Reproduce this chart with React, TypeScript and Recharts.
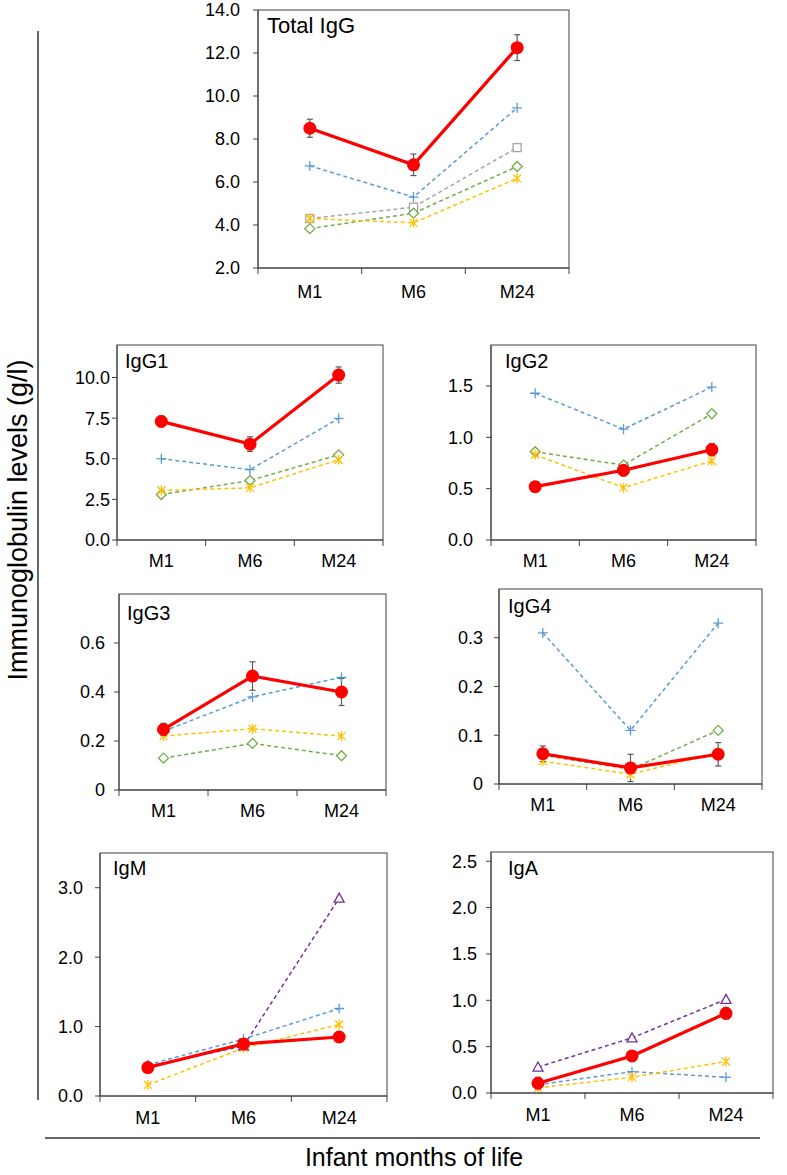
import React from "react";
import { LineChart, Line, XAxis, YAxis, ErrorBar } from "recharts";

const months = ["M1", "M6", "M24"];

// Total IgG (g/l)
const totalIgG = [8.5, 6.8, 12.25];
const totalIgGErr = [0.42, 0.5, 0.6];
const totalIgGPlus = [6.75, 5.3, 9.45];
const totalIgGSquare = [4.3, 4.83, 7.6];
const totalIgGDiamond = [3.83, 4.55, 6.72];
const totalIgGStar = [4.3, 4.1, 6.17];
const totalIgGTicks = [2, 4, 6, 8, 10, 12, 14];

// IgG1
const igg1 = [7.3, 5.9, 10.15];
const igg1Err = [0.33, 0.45, 0.5];
const igg1Plus = [5.0, 4.33, 7.48];
const igg1Diamond = [2.8, 3.66, 5.24];
const igg1Star = [3.05, 3.21, 4.94];
const igg1Ticks = [0, 2.5, 5, 7.5, 10];

// IgG2
const igg2 = [0.52, 0.68, 0.88];
const igg2Err = [0.05, 0.055, 0.06];
const igg2Plus = [1.43, 1.08, 1.49];
const igg2Diamond = [0.86, 0.73, 1.23];
const igg2Star = [0.83, 0.51, 0.77];
const igg2Ticks = [0, 0.5, 1, 1.5];

// IgG3
const igg3 = [0.247, 0.465, 0.4];
const igg3Err = [0.025, 0.058, 0.055];
const igg3Plus = [0.24, 0.38, 0.46];
const igg3Diamond = [0.13, 0.19, 0.14];
const igg3Star = [0.22, 0.25, 0.22];
const igg3Ticks = [0, 0.2, 0.4, 0.6];

// IgG4
const igg4 = [0.062, 0.033, 0.061];
const igg4Err = [0.016, 0.028, 0.024];
const igg4Plus = [0.31, 0.11, 0.33];
const igg4Diamond = [0.059, 0.03, 0.11];
const igg4Star = [0.047, 0.02, 0.064];
const igg4Ticks = [0, 0.1, 0.2, 0.3];

// IgM
const igm = [0.41, 0.75, 0.85];
const igmErr = [0.04, 0.04, 0.03];
const igmPlus = [0.45, 0.82, 1.26];
const igmStar = [0.16, 0.69, 1.03];
const igmTriangle = [0.43, 0.72, 2.85];
const igmTicks = [0, 1, 2, 3];

// IgA
const iga = [0.105, 0.4, 0.86];
const igaErr = [0.065, 0.03, 0.06];
const igaPlus = [0.09, 0.23, 0.17];
const igaStar = [0.055, 0.17, 0.34];
const igaTriangle = [0.28, 0.595, 1.01];
const igaTicks = [0, 0.5, 1, 1.5, 2, 2.5];

const AXIS = "#404040";
const RED = "#ff0000";
const FONT = "'Liberation Sans', Arial, sans-serif";

type RefKey = "plus" | "square" | "diamond" | "star" | "triangle";

const refColors: Record<RefKey, string> = {
  plus: "#5b9bd5",
  square: "#a5a5a5",
  diamond: "#70ad47",
  star: "#ffc000",
  triangle: "#7030a0",
};

function Marker({ kind, cx, cy }: { kind: RefKey; cx?: number; cy?: number }) {
  if (cx == null || cy == null) return null;
  const c = refColors[kind];
  if (kind === "plus") {
    return (
      <g stroke={c} strokeWidth={1.3}>
        <line x1={cx - 5} y1={cy} x2={cx + 5} y2={cy} />
        <line x1={cx} y1={cy - 5} x2={cx} y2={cy + 5} />
      </g>
    );
  }
  if (kind === "square") {
    return <rect x={cx - 4} y={cy - 4} width={8} height={8} fill="#fff" stroke={c} strokeWidth={1.3} />;
  }
  if (kind === "diamond") {
    return (
      <polygon
        points={`${cx},${cy - 5} ${cx + 5},${cy} ${cx},${cy + 5} ${cx - 5},${cy}`}
        fill="#fff"
        stroke={c}
        strokeWidth={1.3}
      />
    );
  }
  if (kind === "triangle") {
    return (
      <polygon
        points={`${cx},${cy - 5} ${cx + 5},${cy + 4} ${cx - 5},${cy + 4}`}
        fill="#fff"
        stroke={c}
        strokeWidth={1.3}
      />
    );
  }
  return (
    <g stroke={c} strokeWidth={1.3}>
      <line x1={cx} y1={cy - 5} x2={cx} y2={cy + 5} />
      <line x1={cx - 4} y1={cy - 4} x2={cx + 4} y2={cy + 4} />
      <line x1={cx - 4} y1={cy + 4} x2={cx + 4} y2={cy - 4} />
    </g>
  );
}

interface Panel {
  title: string;
  titleSize: number;
  titleDx: number;
  titleDy: number;
  box: { x: number; y: number; w: number; h: number };
  domain: [number, number];
  ticks: number[];
  fmt: (v: number) => string;
  labelGap: number;
  labelDy: number;
  main: number[];
  err: number[];
  refs: Partial<Record<RefKey, number[]>>;
}

const oneDecimal = (v: number) => v.toFixed(1);
const plain = (v: number) => String(v);

const panels: Panel[] = [
  {
    title: "Total IgG", titleSize: 22, titleDx: 9, titleDy: 23,
    box: { x: 258, y: 10, w: 311, h: 258 },
    domain: [2, 14], ticks: totalIgGTicks, fmt: oneDecimal, labelGap: 13, labelDy: 30,
    main: totalIgG, err: totalIgGErr,
    refs: { plus: totalIgGPlus, square: totalIgGSquare, diamond: totalIgGDiamond, star: totalIgGStar },
  },
  {
    title: "IgG1", titleSize: 20, titleDx: 8, titleDy: 23,
    box: { x: 117, y: 345, w: 266, h: 195 },
    domain: [0, 12], ticks: igg1Ticks, fmt: oneDecimal, labelGap: 2, labelDy: 27,
    main: igg1, err: igg1Err,
    refs: { plus: igg1Plus, diamond: igg1Diamond, star: igg1Star },
  },
  {
    title: "IgG2", titleSize: 20, titleDx: 14, titleDy: 23,
    box: { x: 491, y: 345, w: 265, h: 195 },
    domain: [0, 1.9], ticks: igg2Ticks, fmt: oneDecimal, labelGap: 13, labelDy: 27,
    main: igg2, err: igg2Err,
    refs: { plus: igg2Plus, diamond: igg2Diamond, star: igg2Star },
  },
  {
    title: "IgG3", titleSize: 20, titleDx: 8, titleDy: 26,
    box: { x: 119, y: 594, w: 267, h: 196 },
    domain: [0, 0.8], ticks: igg3Ticks, fmt: plain, labelGap: 9, labelDy: 27,
    main: igg3, err: igg3Err,
    refs: { plus: igg3Plus, diamond: igg3Diamond, star: igg3Star },
  },
  {
    title: "IgG4", titleSize: 20, titleDx: 9, titleDy: 24,
    box: { x: 499, y: 589, w: 263, h: 195 },
    domain: [0, 0.4], ticks: igg4Ticks, fmt: plain, labelGap: 11, labelDy: 27,
    main: igg4, err: igg4Err,
    refs: { plus: igg4Plus, diamond: igg4Diamond, star: igg4Star },
  },
  {
    title: "IgM", titleSize: 20, titleDx: 13, titleDy: 22,
    box: { x: 100, y: 853, w: 287, h: 243 },
    domain: [0, 3.5], ticks: igmTicks, fmt: oneDecimal, labelGap: 12, labelDy: 28,
    main: igm, err: igmErr,
    refs: { triangle: igmTriangle, plus: igmPlus, star: igmStar },
  },
  {
    title: "IgA", titleSize: 20, titleDx: 17, titleDy: 23,
    box: { x: 491, y: 852, w: 282, h: 241 },
    domain: [0, 2.6], ticks: igaTicks, fmt: oneDecimal, labelGap: 9, labelDy: 28,
    main: iga, err: igaErr,
    refs: { triangle: igaTriangle, plus: igaPlus, star: igaStar },
  },
];

// category boundaries at integers, labels at band centres
const xTicks = [0, 0.5, 1, 1.5, 2, 2.5, 3];

function MonthTick(props: any) {
  const { x, y, payload, labelDy } = props;
  const v = payload.value as number;
  if (Number.isInteger(v)) {
    return <line x1={x} y1={y} x2={x} y2={y + 6} stroke={AXIS} strokeWidth={1} />;
  }
  return (
    <text x={x} y={y + labelDy} textAnchor="middle" fontSize={18} fill="#000">
      {months[Math.floor(v)]}
    </text>
  );
}

const Y_W = 70;
const PAD = 12;
const X_H = 40;

function PanelChart({ p }: { p: Panel }) {
  const data = months.map((m, i) => {
    const row: Record<string, number | string> = { x: i + 0.5, month: m, main: p.main[i], err: p.err[i] };
    (Object.keys(p.refs) as RefKey[]).forEach((k) => {
      row[k] = (p.refs[k] as number[])[i];
    });
    return row;
  });
  return (
    <div style={{ position: "absolute", left: p.box.x - Y_W, top: p.box.y - PAD }}>
      <LineChart
        width={p.box.w + Y_W + PAD}
        height={p.box.h + PAD + X_H}
        data={data}
        margin={{ top: PAD, right: PAD, bottom: 0, left: 0 }}
      >
        <XAxis
          dataKey="x"
          type="number"
          domain={[0, 3]}
          ticks={xTicks}
          interval={0}
          height={X_H}
          tickSize={0}
          tickMargin={0}
          tickLine={false}
          axisLine={{ stroke: AXIS, strokeWidth: 1 }}
          tick={(t: any) => <MonthTick {...t} labelDy={p.labelDy} />}
        />
        <YAxis
          type="number"
          domain={p.domain}
          ticks={p.ticks}
          interval={0}
          width={Y_W}
          tickSize={5}
          tickMargin={p.labelGap}
          tickFormatter={p.fmt}
          tick={{ fontSize: 18, fill: "#000" }}
          tickLine={{ stroke: AXIS }}
          axisLine={{ stroke: AXIS, strokeWidth: 1 }}
          allowDataOverflow
        />
        {(Object.keys(p.refs) as RefKey[]).map((k) => (
          <Line
            key={k}
            dataKey={k}
            type="linear"
            stroke={refColors[k]}
            strokeWidth={1.5}
            strokeDasharray="4 3"
            dot={(d: any) => <Marker key={`${k}-${d.index}`} kind={k} cx={d.cx} cy={d.cy} />}
            activeDot={false}
            isAnimationActive={false}
          />
        ))}
        <Line
          dataKey="main"
          type="linear"
          stroke={RED}
          strokeWidth={3.2}
          dot={{ r: 6.5, fill: RED, stroke: RED, strokeWidth: 0 }}
          activeDot={false}
          isAnimationActive={false}
        >
          <ErrorBar dataKey="err" direction="y" width={3} stroke="#595959" strokeWidth={1.2} />
        </Line>
      </LineChart>
    </div>
  );
}

export default function App() {
  return (
    <div style={{ position: "relative", width: 787, height: 1175, background: "#fff", fontFamily: FONT, overflow: "hidden" }}>
      <style>{"body{margin:0}"}</style>
      {panels.map((p) => (
        <PanelChart key={p.title} p={p} />
      ))}
      <svg width={787} height={1175} style={{ position: "absolute", left: 0, top: 0, pointerEvents: "none" }}>
        {panels.map((p) => (
          <g key={p.title}>
            <rect x={p.box.x} y={p.box.y} width={p.box.w} height={p.box.h} fill="none" stroke={AXIS} strokeWidth={1} />
            <text x={p.box.x + p.titleDx} y={p.box.y + p.titleDy} fontSize={p.titleSize} fill="#000">
              {p.title}
            </text>
          </g>
        ))}
        <line x1={38} y1={31} x2={38} y2={1100} stroke="#333" strokeWidth={1.5} />
        <line x1={45} y1={1138} x2={760} y2={1138} stroke="#333" strokeWidth={1.5} />
        <text x={27} y={520} transform="rotate(-90 27 520)" textAnchor="middle" fontSize={27} fill="#000">
          Immunoglobulin levels (g/l)
        </text>
        <text x={414} y={1166} textAnchor="middle" fontSize={25} fill="#000">
          Infant months of life
        </text>
      </svg>
    </div>
  );
}
